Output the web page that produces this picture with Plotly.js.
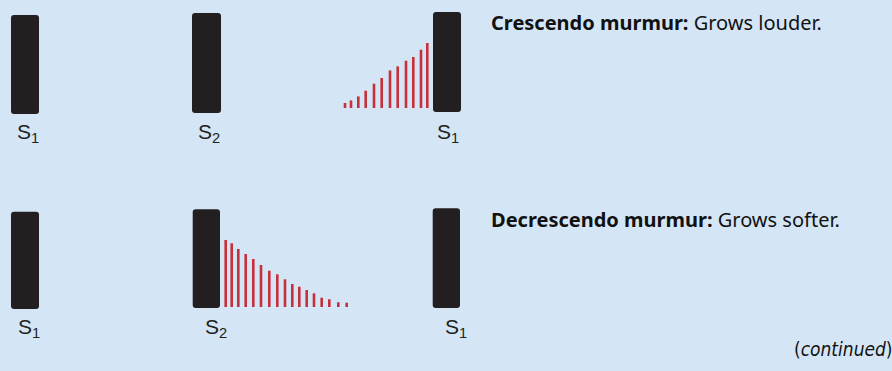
<!DOCTYPE html>
<html>
<head>
<meta charset="utf-8">
<script src="https://cdn.plot.ly/plotly-3.0.1.min.js"></script>
<style>
  html, body { margin: 0; padding: 0; background: #d4e6f6; }
  #chart { width: 892px; height: 371px; }
</style>
</head>
<body>
<div id="chart"></div>
<script>
// ---- Data (time units along x, amplitude units along y) ----
// Heart sounds, top row (crescendo example)
const topSoundNames   = ['S1', 'S2', 'S1'];
const topSoundStart   = [11, 192, 433];
const topSoundEnd     = [39, 221, 461];
const topSoundTop     = [93, 95, 96];
const topSoundBottom  = [-6, -5, -4];

// Heart sounds, bottom row (decrescendo example)
const botSoundNames   = ['S1', 'S2', 'S1'];
const botSoundStart   = [11, 192.7, 432.7];
const botSoundEnd     = [39, 220, 460];
const botSoundTop     = [95.3, 97.7, 98.7];
const botSoundBottom  = [-2, -1, -1];

// Crescendo murmur (grows louder toward S1)
const crescTime = [345, 351, 358.3, 365.7, 374, 381.7, 390, 397.7, 406, 413.3, 421, 427.3];
const crescAmp  = [5, 7.6, 11.6, 17.3, 24.3, 30, 37.6, 41.6, 47.3, 51, 58.3, 65];

// Decrescendo murmur (grows softer after S2)
const decrTime = [225.7, 231.7, 238.3, 245.7, 253.3, 261, 269.3, 277.3, 285, 292.3, 299.3, 306.7, 314, 321.7, 329.3, 338.3, 346.7];
const decrAmp  = [67, 63.7, 58, 53, 48, 42, 36.3, 32.7, 27.7, 23, 20.3, 17, 13.7, 9.3, 7.7, 4.7, 4.3];

// Texts
const crescTitle = 'Crescendo murmur:';
const crescDesc  = 'Grows louder.';
const decrTitle  = 'Decrescendo murmur:';
const decrDesc   = 'Grows softer.';
const continuedText = 'continued';

// ---- Styles ----
const BG = '#d4e6f6';
const SOUND_COLOR = '#231f20';
const MURMUR_COLOR = '#c5303b';
const MURMUR_W = 2.6;

function soundTrace(start, end, top, bottom, yaxis) {
  return {
    type: 'bar',
    x: start.map((s, i) => (s + end[i]) / 2),
    width: start.map((s, i) => end[i] - s),
    y: top.map((t, i) => t - bottom[i]),
    base: bottom,
    yaxis: yaxis,
    marker: { color: SOUND_COLOR, cornerradius: 3, line: { width: 0 } },
    hoverinfo: 'skip',
    showlegend: false
  };
}
function murmurTrace(time, amp, yaxis) {
  return {
    type: 'bar',
    x: time,
    y: amp,
    base: 0,
    width: time.map(() => MURMUR_W),
    yaxis: yaxis,
    marker: { color: MURMUR_COLOR, line: { width: 0 } },
    hoverinfo: 'skip',
    showlegend: false
  };
}

const traces = [
  soundTrace(topSoundStart, topSoundEnd, topSoundTop, topSoundBottom, 'y'),
  murmurTrace(crescTime, crescAmp, 'y'),
  soundTrace(botSoundStart, botSoundEnd, botSoundTop, botSoundBottom, 'y2'),
  murmurTrace(decrTime, decrAmp, 'y2')
];

function subLabel(name) {
  return name.charAt(0) + '<sub>' + name.slice(1) + '</sub>';
}

const labelFont = { family: 'Liberation Sans, Arial, sans-serif', size: 21, color: SOUND_COLOR };
const topLabelX = [15, 196, 435];
const botLabelX = [16, 203, 443];

const annotations = [];
topSoundNames.forEach((n, i) => annotations.push({
  text: subLabel(n), xref: 'x', yref: 'paper', x: topLabelX[i], y: 1 - 133 / 371,
  xanchor: 'left', yanchor: 'middle', showarrow: false, font: labelFont
}));
botSoundNames.forEach((n, i) => annotations.push({
  text: subLabel(n), xref: 'x', yref: 'paper', x: botLabelX[i], y: 1 - 328 / 371,
  xanchor: 'left', yanchor: 'middle', showarrow: false, font: labelFont
}));

const textFont = { family: '"Noto Sans", "Open Sans", sans-serif', size: 20, color: '#111111' };
annotations.push({
  text: '<b>' + crescTitle + '</b> ' + crescDesc, xref: 'x', yref: 'paper',
  x: 489, y: 1 - 22 / 371, xanchor: 'left', yanchor: 'middle', showarrow: false, font: textFont
});
annotations.push({
  text: '<b>' + decrTitle + '</b> ' + decrDesc, xref: 'x', yref: 'paper',
  x: 489, y: 1 - 219 / 371, xanchor: 'left', yanchor: 'middle', showarrow: false, font: textFont
});
annotations.push({
  text: '(<i>' + continuedText + '</i>)', xref: 'paper', yref: 'paper',
  x: 1, y: 1 - 349 / 371, xanchor: 'right', yanchor: 'middle', xshift: 3, showarrow: false,
  font: { family: '"Liberation Sans Narrow", "DejaVu Sans Condensed", "Roboto", sans-serif', size: 19, color: '#111111' }
});

const layout = {
  width: 892, height: 371,
  margin: { l: 0, r: 0, t: 0, b: 0, pad: 0 },
  paper_bgcolor: BG, plot_bgcolor: BG,
  barmode: 'overlay',
  showlegend: false,
  xaxis: { range: [0, 892], visible: false, fixedrange: true },
  yaxis: { range: [-263, 108], visible: false, fixedrange: true, domain: [0, 1] },
  yaxis2: { range: [-64, 307], visible: false, fixedrange: true, overlaying: 'y' },
  annotations: annotations
};

Plotly.newPlot('chart', traces, layout, { staticPlot: true, displayModeBar: false });
</script>
</body>
</html>
